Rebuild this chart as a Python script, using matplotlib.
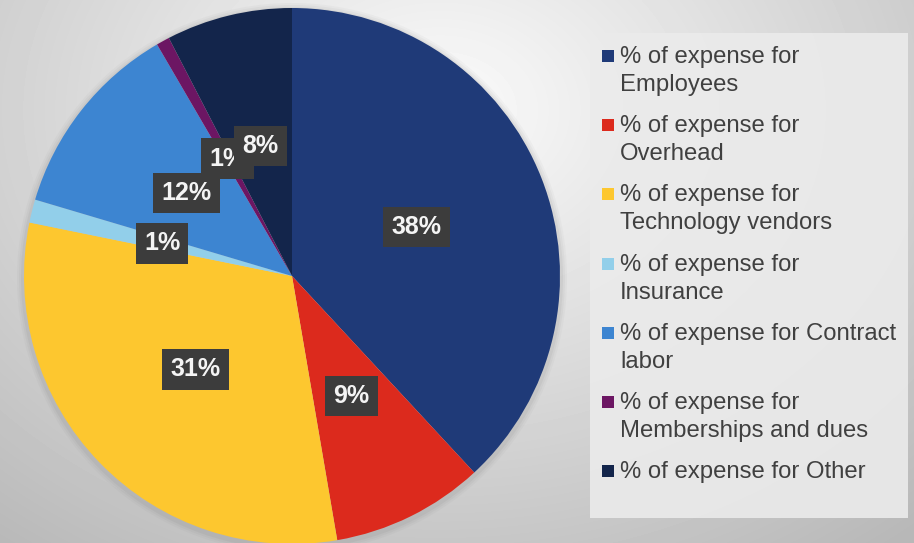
import numpy as np
import matplotlib
matplotlib.use("Agg")
import matplotlib.pyplot as plt
from matplotlib.patches import Rectangle, Circle

plt.rcParams['font.family'] = ['Liberation Sans', 'DejaVu Sans']

# Data
categories = ['Employees', 'Overhead', 'Technology vendors', 'Insurance',
              'Contract labor', 'Memberships and dues', 'Other']
shares = [38.1, 9.2, 30.9, 1.4, 12.0, 0.8, 7.6]
legend_labels = ['% of expense for\nEmployees',
                 '% of expense for\nOverhead',
                 '% of expense for\nTechnology vendors',
                 '% of expense for\nInsurance',
                 '% of expense for Contract\nlabor',
                 '% of expense for\nMemberships and dues',
                 '% of expense for Other']
colors = ['#1f3a78', '#dc2a1d', '#fdc72f', '#92cfea',
          '#3d85d1', '#6c1663', '#13254b']

W, H = 914, 543
fig = plt.figure(figsize=(W / 100, H / 100), dpi=100)

# Background: soft radial gradient
bg = fig.add_axes([0, 0, 1, 1], zorder=0)
yy, xx = np.mgrid[0:H, 0:W]
d = np.sqrt((xx - 440) ** 2 + ((yy - 110) * 1.3) ** 2) / 600
shade = 0.985 - 0.22 * np.clip(d, 0, 1.2)
bg.imshow(shade, cmap='gray', vmin=0, vmax=1, extent=[0, W, H, 0], aspect='auto')
bg.set_xlim(0, W)
bg.set_ylim(H, 0)
bg.axis('off')

# faint shadow around the pie
cx, cy, R = 292, 276, 268
for k, a in [(7, 0.04), (5, 0.05), (3, 0.07)]:
    bg.add_patch(Circle((cx, cy + 2), R + k, facecolor='#606060',
                        edgecolor='none', alpha=a))

# Legend panel
bg.add_patch(Rectangle((590, 33), 318, 485, facecolor='#ebebeb',
                       edgecolor='none', alpha=0.9))

# Pie
ax = fig.add_axes([(cx - R) / W, (H - cy - R) / H, 2 * R / W, 2 * R / H], zorder=2)
wedges, texts, autotexts = ax.pie(
    shares, colors=colors, startangle=90, counterclock=False,
    autopct='%.0f%%', pctdistance=0.5,
    wedgeprops=dict(linewidth=0),
    textprops=dict(color='#f4f4f4', fontsize=18, fontweight='bold'))
for t in autotexts:
    t.set_bbox(dict(boxstyle='square,pad=0.33', facecolor='#3c3c3c',
                    edgecolor='none'))
ax.set_xlim(-1, 1)
ax.set_ylim(-1, 1)
ax.set_aspect('equal')
ax.axis('off')

# Legend entries
y0, step, line_h = 63, 69.2, 28
for i, (lab, col) in enumerate(zip(legend_labels, colors)):
    yb = y0 + i * step
    bg.add_patch(Rectangle((602, yb - 13), 12, 12, facecolor=col, edgecolor='none'))
    lines = lab.split('\n')
    for j, line in enumerate(lines):
        bg.text(620, yb + j * line_h, line, fontsize=17.2, color='#404040',
                va='baseline', ha='left')

fig.savefig('out.png', dpi=100)
